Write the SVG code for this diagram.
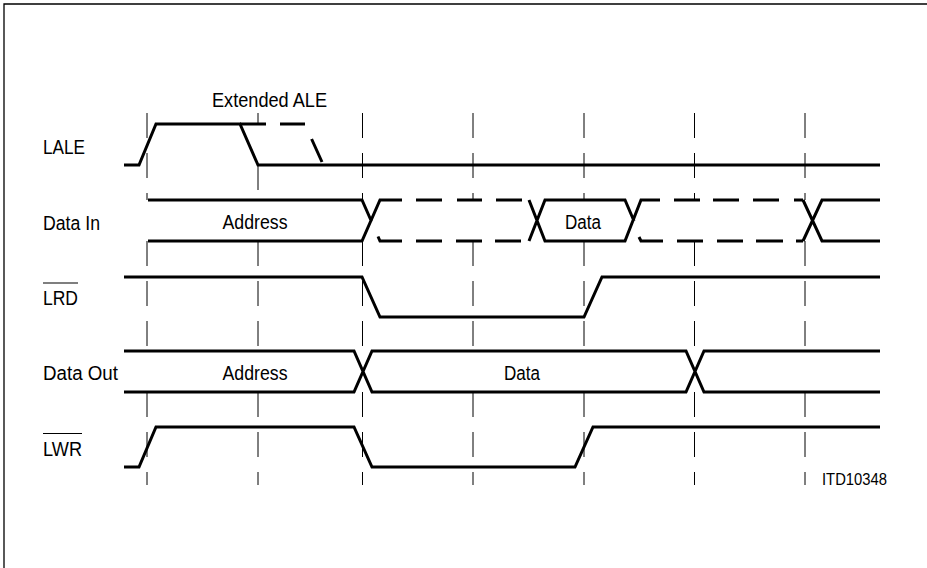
<svg xmlns="http://www.w3.org/2000/svg" width="927" height="568" viewBox="0 0 927 568">
<style>
  .sig{fill:none;stroke:#000;stroke-width:3;stroke-linejoin:miter;stroke-linecap:butt}
  .grid{fill:none;stroke:#000;stroke-width:1;stroke-dasharray:25 15}
  .gs{fill:none;stroke:#000;stroke-width:1}
  .lbl{font-family:"Liberation Sans",Arial,Helvetica,sans-serif;font-size:19.5px;fill:#000}
  .mid{text-anchor:middle}
  .ov{fill:none;stroke:#000;stroke-width:1.2}
</style>
<rect width="927" height="568" fill="#fff"/>
<path d="M4,568 V4 H927" fill="none" stroke="#000" stroke-width="1.3"/>

<g id="gridlines">
  <g id="g147"><line class="grid" x1="147" y1="113" x2="147" y2="200"/><line class="grid" x1="147" y1="241" x2="147" y2="346"/><line class="grid" x1="147" y1="392" x2="147" y2="485"/></g>
  <g id="g258"><line class="gs" x1="258" y1="113" x2="258" y2="124"/><line class="gs" x1="258" y1="165" x2="258" y2="190"/><line class="grid" x1="258" y1="241" x2="258" y2="346"/><line class="grid" x1="258" y1="392" x2="258" y2="485"/></g>
  <g id="g362"><line class="grid" x1="362.5" y1="113" x2="362.5" y2="200"/><line class="grid" x1="362.5" y1="241" x2="362.5" y2="346"/><line class="grid" x1="362.5" y1="392" x2="362.5" y2="485"/></g>
  <g id="g473"><line class="grid" x1="473" y1="113" x2="473" y2="200"/><line class="grid" x1="473" y1="241" x2="473" y2="346"/><line class="grid" x1="473" y1="392" x2="473" y2="485"/></g>
  <g id="g584"><line class="grid" x1="584" y1="113" x2="584" y2="200"/><line class="grid" x1="584" y1="241" x2="584" y2="346"/><line class="grid" x1="584" y1="392" x2="584" y2="485"/></g>
  <g id="g694"><line class="grid" x1="694.5" y1="113" x2="694.5" y2="200"/><line class="grid" x1="694.5" y1="241" x2="694.5" y2="346"/><line class="grid" x1="694.5" y1="392" x2="694.5" y2="485"/></g>
  <g id="g805"><line class="grid" x1="805" y1="113" x2="805" y2="200"/><line class="grid" x1="805" y1="241" x2="805" y2="346"/><line class="grid" x1="805" y1="392" x2="805" y2="485"/></g>
</g>

<g id="LALE">
  <text class="lbl" x="43" y="154" textLength="42" lengthAdjust="spacingAndGlyphs">LALE</text>
  <path class="sig" d="M124,165 H139 L156,124 H240 L258,165 H880"/>
  <path class="sig" d="M240,124 H266 M280,124 H305 M311.6,139 L322,162"/>
  <text class="lbl" x="212" y="107" textLength="115" lengthAdjust="spacingAndGlyphs">Extended ALE</text>
</g>

<g id="DataIn">
  <text class="lbl" x="43" y="230" textLength="57" lengthAdjust="spacingAndGlyphs">Data In</text>
  <path class="sig" d="M148,200 H362 L371.5,221.5 M148,241 H362 L380,200 H402 M378,236.5 L380,241 H402"/>
  <path class="sig" d="M416,200 H442 M457,200 H482 M496,200 H522 M416,241 H442 M456,241 H482 M495,241 H521"/>
  <path class="sig" d="M529,200 L545,241 H625 L641,200 H660 M529,241 L545,200 H625 L634,221 M639,237 L641,241 H663"/>
  <path class="sig" d="M674,200 H700 M713,200 H739 M753,200 H779 M794,200 H803 M677,241 H703 M717,241 H743 M756,241 H783 M796,241 H803"/>
  <path class="sig" d="M803,200 L822,241 H880 M803,241 L822,200 H880"/>
  <text class="lbl mid" x="255" y="228.5" textLength="65" lengthAdjust="spacingAndGlyphs">Address</text>
  <text class="lbl mid" x="583" y="228.5" textLength="36" lengthAdjust="spacingAndGlyphs">Data</text>
</g>

<g id="LRD">
  <text class="lbl" x="43" y="305" textLength="35" lengthAdjust="spacingAndGlyphs">LRD</text>
  <line class="ov" x1="43" y1="283" x2="78" y2="283"/>
  <path class="sig" d="M124,277 H362 L380,317 H584 L602,277 H880"/>
</g>

<g id="DataOut">
  <text class="lbl" x="43" y="380" textLength="75" lengthAdjust="spacingAndGlyphs">Data Out</text>
  <path class="sig" d="M124,351 H354 L372,392 H686 L704,351 H880 M124,392 H354 L372,351 H686 L704,392 H880"/>
  <text class="lbl mid" x="255" y="380" textLength="65" lengthAdjust="spacingAndGlyphs">Address</text>
  <text class="lbl mid" x="522" y="380" textLength="36" lengthAdjust="spacingAndGlyphs">Data</text>
</g>

<g id="LWR">
  <text class="lbl" x="43" y="456" textLength="39" lengthAdjust="spacingAndGlyphs">LWR</text>
  <line class="ov" x1="43" y1="433.5" x2="82" y2="433.5"/>
  <path class="sig" d="M124,467 H139 L156,427 H354 L372,467 H575 L593,427 H880"/>
</g>

<text class="lbl" x="822" y="485" style="font-size:17px" textLength="65" lengthAdjust="spacingAndGlyphs">ITD10348</text>
</svg>
